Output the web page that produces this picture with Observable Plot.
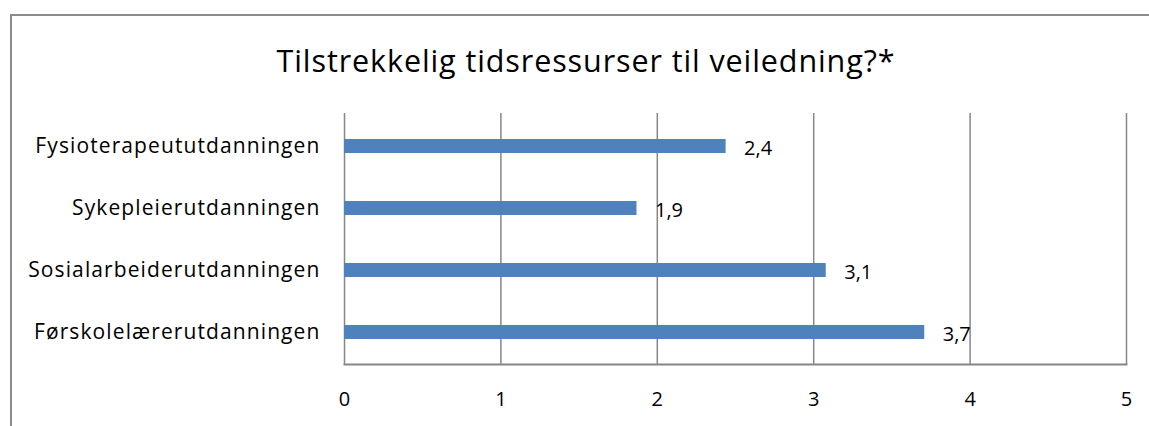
<!DOCTYPE html>
<html>
<head>
<meta charset="utf-8">
<script src="https://cdn.jsdelivr.net/npm/d3@7"></script>
<script src="https://cdn.jsdelivr.net/npm/@observablehq/plot@0.6"></script>
<style>
  html, body { margin: 0; padding: 0; background: #fff; }
  #wrap { position: relative; width: 1149px; height: 426px; overflow: hidden; font-family: "Open Sans", sans-serif; }
  #border { position: absolute; left: 10px; top: 14px; width: 1200px; height: 500px; border-left: 2px solid #8c8c8c; border-top: 2px solid #8c8c8c; box-sizing: border-box; }
  #title { position: absolute; left: 0; top: 40px; width: 1172px; text-align: center; font-size: 30.5px; letter-spacing: 0.9px; color: #000; line-height: 40px; }
  #chart { position: absolute; left: 0; top: 0; }
  #chart g[aria-label="y-axis tick label"] text { letter-spacing: 1.1px; }
</style>
</head>
<body>
<div id="wrap">
  <div id="border"></div>
  <div id="title">Tilstrekkelig tidsressurser til veiledning?*</div>
  <div id="chart"></div>
</div>
<script>
const categories = ["Fysioterapeututdanningen", "Sykepleierutdanningen", "Sosialarbeiderutdanningen", "Førskolelærerutdanningen"];
const values = [2.44, 1.87, 3.08, 3.71];
const xTicks = [0, 1, 2, 3, 4, 5];

const data = categories.map((c, i) => ({category: c, value: values[i]}));
const fmt = v => v.toFixed(1).replace(".", ",");

const chart = Plot.plot({
  width: 1149,
  height: 426,
  marginLeft: 344,
  marginRight: 23,
  marginTop: 113,
  marginBottom: 62,
  style: {fontFamily: "'Open Sans', sans-serif", fontSize: "20px", color: "#000", background: "transparent"},
  x: {domain: [0, 5], ticks: xTicks, label: null},
  y: {domain: categories, padding: 0, label: null},
  marks: [
    Plot.gridX(xTicks, {stroke: "#868686", strokeOpacity: 1, strokeWidth: 1.5}),
    Plot.frame({anchor: "bottom", stroke: "#868686", strokeWidth: 2}),
    Plot.barX(data, {x: "value", y: "category", fill: "#4f81bd", insetTop: 24, insetBottom: 24}),
    Plot.text(data, {x: "value", y: "category", text: d => fmt(d.value), textAnchor: "start", dx: 18, dy: 2, fontSize: 20, fill: "#000"}),
    Plot.axisX(xTicks, {tickSize: 0, tickPadding: 27, fontSize: 20, tickFormat: d => String(d)}),
    Plot.axisY({tickSize: 0, tickPadding: 24, fontSize: 21})
  ]
});
document.getElementById("chart").appendChild(chart);
</script>
</body>
</html>
